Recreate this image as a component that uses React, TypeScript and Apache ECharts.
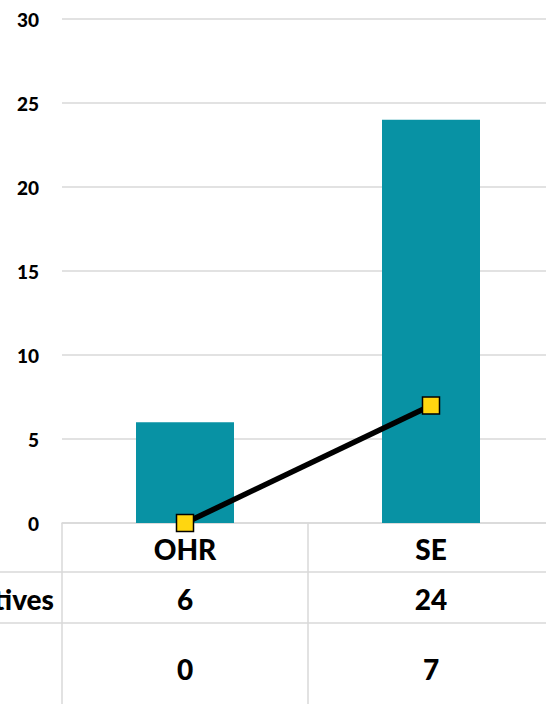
import React, { useEffect, useRef } from "react";
import * as echarts from "echarts";

const categories = ["OHR", "SE"];
const positives = [6, 24];
const second = [0, 7];
const rowLabels = ["Positives", ""];
const yTicks = [0, 5, 10, 15, 20, 25, 30];

const FONT = "Lato, 'Open Sans', sans-serif";
const GRID_COLOR = "#d9d9d9";

export default function App() {
  const ref = useRef<HTMLDivElement>(null);
  useEffect(() => {
    if (!ref.current) return;
    const chart = echarts.init(ref.current, null, { renderer: "svg" });
    const option: any = {
      animation: false,
      grid: { left: 62, width: 492, top: 19, bottom: 181, containLabel: false, outerBoundsMode: "none" },
      xAxis: {
        type: "category",
        data: categories,
        boundaryGap: true,
        axisLine: { show: true, lineStyle: { color: GRID_COLOR, width: 1.5 } },
        axisTick: { show: true, interval: 0, length: 190, lineStyle: { color: GRID_COLOR, width: 1.5 } },
        axisLabel: {
          interval: 0,
          margin: 1,
          formatter: (value: string, index: number) =>
            `{a|${value}}\n{b|${positives[index]}}\n{c|${second[index]}}`,
          rich: {
            a: { fontFamily: FONT, fontWeight: 900, fontSize: 28, color: "#000", lineHeight: 50 },
            b: { fontFamily: FONT, fontWeight: 900, fontSize: 28, color: "#000", lineHeight: 50 },
            c: { fontFamily: FONT, fontWeight: 900, fontSize: 28, color: "#000", lineHeight: 90 },
          },
        },
      },
      yAxis: {
        type: "value",
        min: yTicks[0],
        max: yTicks[yTicks.length - 1],
        interval: 5,
        axisLine: { show: false },
        axisTick: { show: false },
        axisLabel: {
          margin: 23,
          fontFamily: FONT,
          fontWeight: 900,
          fontSize: 19,
          color: "#000",
        },
        splitLine: { show: true, lineStyle: { color: GRID_COLOR, width: 1.5 } },
      },
      series: [
        {
          name: rowLabels[0],
          type: "bar",
          data: positives,
          barWidth: 98,
          itemStyle: { color: "#0892A4" },
          z: 2,
        },
        {
          name: rowLabels[1] || "Series 2",
          type: "line",
          data: second,
          symbol: "rect",
          symbolSize: 17,
          lineStyle: { color: "#000", width: 5.5 },
          itemStyle: { color: "#FFD610", borderColor: "#000", borderWidth: 1.5 },
          z: 5,
        },
      ],
      graphic: [
        { type: "line", shape: { x1: 0, y1: 572, x2: 546, y2: 572 }, style: { stroke: GRID_COLOR, lineWidth: 1.5 } },
        { type: "line", shape: { x1: 0, y1: 623, x2: 546, y2: 623 }, style: { stroke: GRID_COLOR, lineWidth: 1.5 } },
        {
          type: "text",
          x: 54,
          y: 599,
          style: {
            text: rowLabels[0],
            align: "right",
            verticalAlign: "middle",
            font: `900 28px ${FONT}`,
            fill: "#000",
          },
        },
        {
          type: "text",
          x: 54,
          y: 669,
          style: {
            text: rowLabels[1],
            align: "right",
            verticalAlign: "middle",
            font: `900 28px ${FONT}`,
            fill: "#000",
          },
        },
      ],
    };
    chart.setOption(option);
    return () => chart.dispose();
  }, []);
  return (
    <div
      ref={ref}
      style={{ position: "absolute", left: 0, top: 0, width: 546, height: 704, background: "#fff" }}
    />
  );
}
